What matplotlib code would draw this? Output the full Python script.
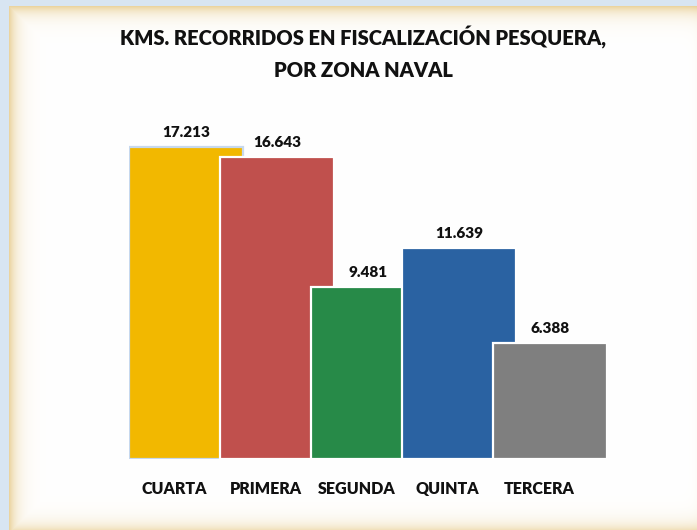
import numpy as np
import matplotlib
matplotlib.use('Agg')
import matplotlib.pyplot as plt

plt.rcParams['font.family'] = ['Lato', 'DejaVu Sans']

zonas = ['CUARTA', 'PRIMERA', 'SEGUNDA', 'QUINTA', 'TERCERA']
kms = [17.213, 16.643, 9.481, 11.639, 6.388]
etiquetas = ['17.213', '16.643', '9.481', '11.639', '6.388']
colores = ['#f2b800', '#c0504d', '#278a48', '#2a62a2', '#7f7f7f']

W, H = 697, 530
fig = plt.figure(figsize=(W / 100, H / 100), dpi=100)

# background: light blue page with a white panel and a golden inner glow
bg = fig.add_axes([0, 0, 1, 1])
bg.set_axis_off()
yy, xx = np.mgrid[0:H, 0:W]
px0, py0 = 9, 6
inside = (xx >= px0) & (yy >= py0)
d = np.minimum.reduce([xx - px0, yy - py0, (H + 2) - yy])
d = np.where(inside, d, 0).astype(float)
glow = np.exp(-d / 8.0) * 0.6 + np.exp(-np.maximum(W - xx, 0) / 4.0) * 0.05
white = np.array([1.0, 1.0, 1.0])
gold = np.array([0.87, 0.72, 0.38])
blue = np.array([0.85, 0.90, 0.95])
img = white[None, None, :] * (1 - glow[..., None]) + gold[None, None, :] * glow[..., None]
img[~inside] = blue
bg.imshow(img, extent=[0, 1, 0, 1], aspect='auto', interpolation='bilinear')
bg.set_xlim(0, 1)
bg.set_ylim(0, 1)

# chart axes
ax = fig.add_axes([129 / W, (H - 459) / H, (607 - 129) / W, 19 * 18.13 / H])
ax.patch.set_alpha(0)
x = np.arange(len(zonas))
width = 1.25
for i in range(len(zonas)):
    ec = '#c6d8ee' if i == 0 else 'white'
    ax.bar(x[i], kms[i], width=width, align='edge', color=colores[i],
           edgecolor=ec, linewidth=1.6, zorder=2 + i)
    ax.text(x[i] + width / 2, kms[i] + 0.45, etiquetas[i], ha='center', va='bottom',
            fontsize=11, fontweight='heavy', color='#111111')

ax.set_xlim(0, 5.25)
ax.set_ylim(0, 19)
ax.set_xticks(x + 0.5)
ax.set_xticklabels(zonas, fontsize=11.5, fontweight='heavy', color='#111111')
ax.tick_params(axis='x', length=0, pad=16)
ax.set_yticks([])
for s in ax.spines.values():
    s.set_visible(False)

fig.text(363 / W, 1 - 53 / H, 'KMS. RECORRIDOS EN FISCALIZACIÓN PESQUERA,\nPOR ZONA NAVAL',
         ha='center', va='center', fontsize=14.5, fontweight='heavy', color='#111111',
         linespacing=1.8)

fig.savefig('out.png', dpi=100)
